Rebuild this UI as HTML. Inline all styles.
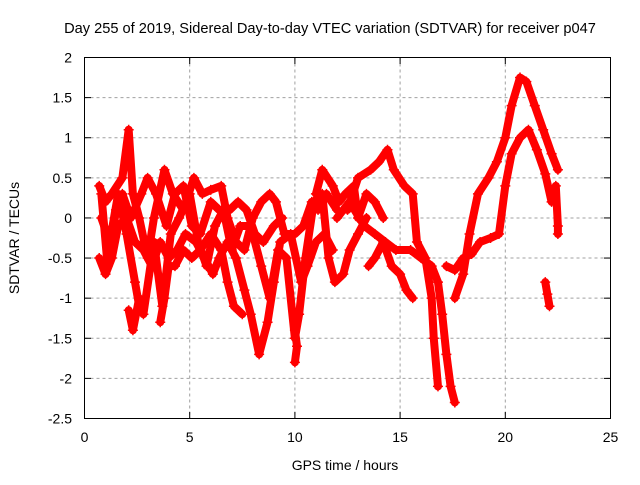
<!DOCTYPE html>
<html><head><meta charset="utf-8"><style>
body{margin:0;background:#fff;}
svg text{font-family:"Liberation Sans",sans-serif;font-size:13px;fill:#000;}
</style></head><body>
<svg id="chart" width="640" height="480" xmlns="http://www.w3.org/2000/svg">
<rect width="640" height="480" fill="#fff"/>
<g id="grid"></g>
<g id="marks"></g>
<rect x="84.5" y="57.5" width="526" height="361" fill="none" stroke="#000" stroke-width="1"/>
<g id="ticks"></g>
<text x="330" y="33" text-anchor="middle" style="font-size:14.6px">Day 255 of 2019, Sidereal Day-to-day VTEC variation (SDTVAR) for receiver p047</text>
<text x="345" y="470" text-anchor="middle" style="font-size:14px">GPS time / hours</text>
<text transform="translate(19,238) rotate(-90)" text-anchor="middle" style="font-size:14px">SDTVAR / TECUs</text>
</svg>
<script>
const xTicks=[0,5,10,15,20,25];
const yTicks=[2,1.5,1,0.5,0,-0.5,-1,-1.5,-2,-2.5];
const trackA=[[17.6,-1.0],[18.0,-0.7],[18.3,-0.2],[18.7,0.3],[19.2,0.5],[19.6,0.7],[20.0,1.0],[20.3,1.4],[20.7,1.75],[21.0,1.7],[21.4,1.4],[21.8,1.1],[22.2,0.8],[22.5,0.6]];
const trackB=[[17.2,-0.6],[17.6,-0.65],[18.0,-0.5],[18.4,-0.45],[18.8,-0.3],[19.3,-0.25],[19.7,-0.2],[20.0,0.4],[20.3,0.8],[20.7,1.0],[21.1,1.1],[21.5,0.85],[21.9,0.55],[22.2,0.2],[22.4,0.4],[22.5,-0.1],[22.5,-0.2]];
const trackC=[[12.5,0.1],[13.0,0.5],[13.6,0.6],[14.0,0.7],[14.4,0.85],[14.7,0.6],[15.2,0.4],[15.6,0.3],[15.8,-0.3],[16.2,-0.5],[16.5,-1.0],[16.6,-1.5],[16.8,-2.1]];
const trackD=[[12.0,0.0],[12.6,0.2],[13.3,-0.1],[13.8,-0.2],[14.3,-0.3],[14.8,-0.4],[15.5,-0.4],[16.0,-0.5],[16.5,-0.6],[16.8,-0.8],[17.0,-1.2],[17.2,-1.7],[17.4,-2.1],[17.6,-2.3]];
const trackE=[[13.5,-0.6],[13.8,-0.5],[14.2,-0.3],[14.6,-0.6],[15.0,-0.7],[15.3,-0.9],[15.6,-1.0]];
const trackF=[[0.7,0.4],[1.0,0.2],[1.3,0.3],[1.8,0.5],[2.1,1.1],[2.3,0.3],[2.6,0.0],[3.0,-0.5],[3.3,0.0],[3.8,0.6],[4.2,0.3],[4.7,0.1],[5.2,0.5],[5.6,0.3],[6.0,0.35],[6.5,0.4],[6.8,0.0],[7.2,-0.3],[7.6,-0.4],[8.0,0.0],[8.4,0.2],[8.8,0.3],[9.1,0.2],[9.5,-0.2],[10.0,-0.2],[10.4,-0.1],[10.8,0.2],[11.1,0.1],[11.5,0.3],[12.0,0.1]];
const trackG=[[0.7,-0.5],[1.0,-0.7],[1.3,-0.5],[1.6,-0.1],[2.0,0.0],[2.4,-0.3],[2.8,-0.4],[3.2,-0.6],[3.6,-0.3],[4.0,-0.5],[4.4,-0.4],[4.8,-0.2],[5.3,-0.3],[5.7,-0.5],[6.1,-0.7],[6.4,-0.5],[6.8,-0.3],[7.2,-0.5],[7.6,-0.9],[7.9,-1.2],[8.3,-1.7],[8.7,-1.3],[9.0,-0.8],[9.3,-0.3],[9.8,-0.2],[10.3,-0.8],[10.6,-0.6],[11.0,-0.3],[11.4,-0.2],[11.8,-0.4]];
const trackH=[[0.8,0.0],[1.2,-0.3],[1.6,0.3],[2.0,-0.2],[2.4,-0.8],[2.6,-1.1],[2.8,-1.2],[3.3,-0.3],[3.7,-1.1],[4.1,-0.2],[4.5,0.0],[5.0,0.3],[5.4,-0.3],[5.8,-0.6],[6.2,-0.1],[6.6,0.1],[7.0,-0.4],[7.4,-0.1],[7.9,-0.1],[8.4,-0.6],[8.8,-1.0],[9.2,-0.4],[9.6,-0.5],[10.0,-1.5],[10.2,-1.2],[10.5,-0.5],[10.9,0.2],[11.3,0.3],[11.6,-0.5],[11.9,-0.8],[12.3,-0.7],[12.6,-0.4],[13.0,-0.2],[13.4,0.0]];
const trackI=[[2.1,-1.15],[2.3,-1.4],[2.6,-1.0]];
const trackJ=[[11.0,0.3],[11.3,0.6],[11.8,0.4],[12.1,0.2],[12.4,0.3],[12.8,0.4],[13.0,0.0],[13.4,0.3],[13.8,0.2],[14.2,0.0]];
const trackK=[[21.9,-0.8],[22.0,-0.95],[22.1,-1.1]];
const trackL=[[10.0,-1.4],[10.1,-1.6],[10.0,-1.8]];
const trackM=[[0.8,0.3],[1.1,-0.6],[1.5,0.1],[1.8,0.3],[2.2,0.0],[2.7,0.3],[3.0,0.5],[3.4,0.3],[3.9,-0.1],[4.3,0.3],[4.7,0.4],[5.1,-0.1],[5.5,-0.2],[6.0,0.2],[6.4,0.1],[6.9,0.1],[7.3,0.2],[7.7,0.1],[8.1,-0.2],[8.5,-0.3],[9.0,-0.1],[9.4,0.0]];
const trackN=[[3.6,-1.3],[3.8,-1.0],[4.0,-0.6],[4.3,-0.6],[4.7,-0.4],[5.1,-0.5],[5.5,-0.4],[6.0,-0.2],[6.5,-0.4],[6.8,-0.8],[7.1,-1.1],[7.5,-1.2]];
const tracks=[trackA,trackB,trackC,trackD,trackE,trackF,trackG,trackH,trackI,trackJ,trackK,trackL,trackM,trackN];
const X=h=>84.5+h*(526/25);
const Y=v=>57.5+(2-v)*(361/4.5);
const NS='http://www.w3.org/2000/svg';
const grid=document.getElementById('grid'),ticks=document.getElementById('ticks'),marks=document.getElementById('marks');
function mk(tag,attrs,parent){const e=document.createElementNS(NS,tag);for(const k in attrs)e.setAttribute(k,attrs[k]);parent.appendChild(e);return e;}
xTicks.forEach(t=>{const x=X(t);
 if(t>0&&t<25){const g=mk('line',{x1:x,x2:x,y1:57.5,y2:418.5,stroke:'#a0a0a0','stroke-dasharray':'3,3'},grid);
 
 }
 mk('line',{x1:x,x2:x,y1:418.5,y2:412,stroke:'#000'},ticks);mk('line',{x1:x,x2:x,y1:57.5,y2:64,stroke:'#000'},ticks);
 const l=mk('text',{x:x,y:442,'text-anchor':'middle','style':'font-size:14px'},ticks);l.textContent=t;
 
 });
yTicks.forEach(t=>{const y=Y(t);
 if(t<2&&t>-2.5){const g=mk('line',{x1:84.5,x2:610.5,y1:y,y2:y,stroke:'#a0a0a0','stroke-dasharray':'3,3'},grid);
 
 }
 mk('line',{x1:84.5,x2:91,y1:y,y2:y,stroke:'#000'},ticks);mk('line',{x1:610.5,x2:604,y1:y,y2:y,stroke:'#000'},ticks);
 const l=mk('text',{x:72,y:y+5,'text-anchor':'end','style':'font-size:14px'},ticks);l.textContent=t;
 
 });
tracks.forEach((tr,i)=>{
 const p=mk('polyline',{points:tr.map(d=>X(d[0])+','+Y(d[1])).join(' '),fill:'none',stroke:'#ff0000','stroke-width':8,'stroke-linejoin':'round','stroke-linecap':'round'},marks);
 
 
 tr.forEach(d=>{const x=X(d[0]),y=Y(d[1]);
  const m=mk('path',{d:`M${x-5},${y}H${x+5}M${x},${y-5}V${y+5}`,stroke:'#ff0000','stroke-width':1.5},marks);
  
  });
});
</script>
</body></html>
